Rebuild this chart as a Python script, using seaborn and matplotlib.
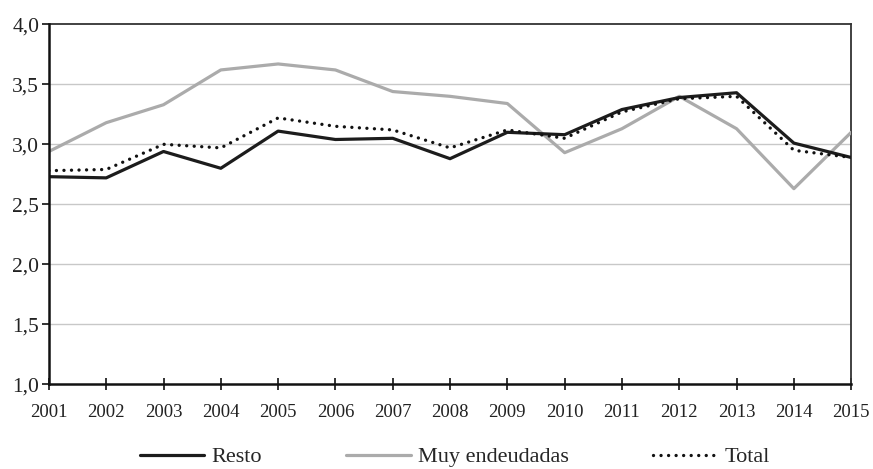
import matplotlib
matplotlib.use("Agg")
import matplotlib.pyplot as plt
import seaborn as sns
import pandas as pd

years = [2001, 2002, 2003, 2004, 2005, 2006, 2007, 2008, 2009, 2010, 2011, 2012, 2013, 2014, 2015]
resto = [2.73, 2.72, 2.94, 2.80, 3.11, 3.04, 3.05, 2.88, 3.10, 3.08, 3.29, 3.39, 3.43, 3.01, 2.89]
muy_endeudadas = [2.94, 3.18, 3.33, 3.62, 3.67, 3.62, 3.44, 3.40, 3.34, 2.93, 3.13, 3.40, 3.13, 2.63, 3.10]
total = [2.78, 2.79, 3.00, 2.97, 3.22, 3.15, 3.12, 2.97, 3.12, 3.05, 3.27, 3.38, 3.40, 2.95, 2.89]
series_names = ["Resto", "Muy endeudadas", "Total"]
y_ticks = [1.0, 1.5, 2.0, 2.5, 3.0, 3.5, 4.0]
y_tick_labels = ["1,0", "1,5", "2,0", "2,5", "3,0", "3,5", "4,0"]

sns.set_theme(style="white")
plt.rcParams["font.family"] = ["Liberation Serif", "DejaVu Serif"]
plt.rcParams["font.size"] = 13.5

fig = plt.figure(figsize=(8.73, 4.69), dpi=100)
ax = fig.add_axes([0.056, 0.181, 0.919, 0.767])

df = pd.DataFrame({"year": years, "Resto": resto, "Muy endeudadas": muy_endeudadas, "Total": total})

sns.lineplot(data=df, x="year", y="Resto", ax=ax, color="#1c1c1c", linewidth=2.3, label=series_names[0], zorder=4)
sns.lineplot(data=df, x="year", y="Muy endeudadas", ax=ax, color="#ababab", linewidth=2.3, label=series_names[1], zorder=3)
sns.lineplot(data=df, x="year", y="Total", ax=ax, color="#111111", linewidth=2.4,
             linestyle=(0, (0.01, 2.25)), dash_capstyle="round", label=series_names[2], zorder=5)

ax.set_xlim(years[0], years[-1])
ax.set_ylim(y_ticks[0], y_ticks[-1])
ax.set_xticks(years)
ax.set_xticklabels([str(y) for y in years], fontsize=13.5, color="#222222")
ax.set_yticks(y_ticks)
ax.set_yticklabels(y_tick_labels, fontsize=15.5, color="#222222")
ax.set_xlabel("")
ax.set_ylabel("")

for y in y_ticks[1:-1]:
    ax.axhline(y, color="#c8c8c8", linewidth=1.0, zorder=1)

for side in ["left", "bottom"]:
    ax.spines[side].set_color("#111111")
    ax.spines[side].set_linewidth(1.8)
for side in ["top", "right"]:
    ax.spines[side].set_color("#333333")
    ax.spines[side].set_linewidth(1.3)
ax.spines["left"].set_zorder(6)
ax.spines["bottom"].set_zorder(6)

ax.tick_params(axis="x", direction="inout", length=9, width=1.2, color="#111111", pad=10, bottom=True)
ax.tick_params(axis="y", direction="out", length=5, width=1.2, color="#111111", pad=2, left=True)

ax.legend(loc="center", bbox_to_anchor=(0.506, -0.203), ncol=3, frameon=False,
          fontsize=16, handlelength=2.9, handletextpad=0.32, columnspacing=3.8,
          borderpad=0.0)

fig.savefig("out.png", dpi=100)
